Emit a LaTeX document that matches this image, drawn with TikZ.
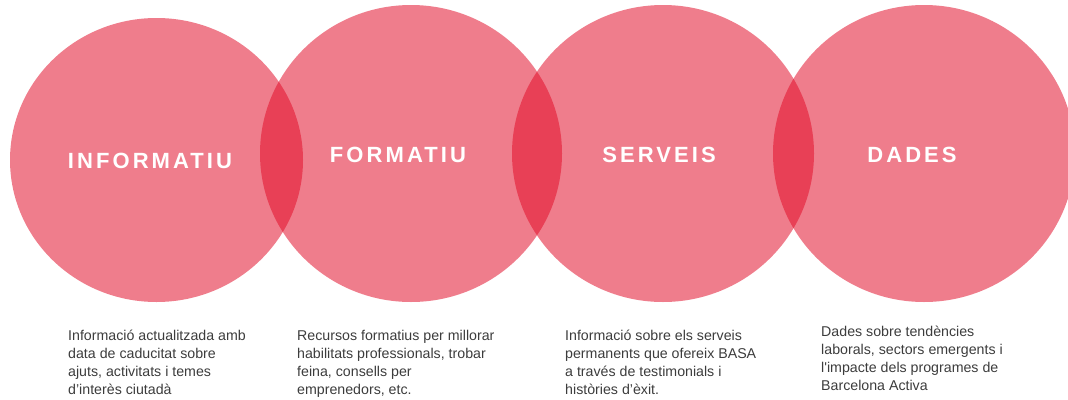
\documentclass[tikz,border=0pt]{standalone}
\usepackage{fontspec}
\setmainfont{Liberation Sans}
\newfontfamily\descfont{Liberation Sans}
\newfontfamily\titlefont{Liberation Sans}[LetterSpace=14]
\usepackage{tikz}
\usetikzlibrary{shapes.geometric}
\definecolor{bared}{HTML}{E10A26}
\definecolor{batext}{HTML}{3C3C3C}

\begin{document}
\begin{tikzpicture}[x=1pt, y=-1pt,
    disc/.style={ellipse, fill=bared, fill opacity=0.53, inner sep=0pt, minimum width=302pt, minimum height=297pt},
    title/.style={text=white, inner sep=0pt, font=\titlefont\bfseries\fontsize{22}{26}\selectfont},
    desc/.style={anchor=base west, align=left, inner sep=0pt, text=batext, font=\descfont\fontsize{14.2}{17.7}\selectfont}
]
\clip (0,0) rectangle (1068,399);

% Four overlapping circles
\node[disc, minimum width=293pt, minimum height=284pt] (cinfo) at (156.5,160) {};
\node[disc] (cform) at (411,153.5) {};
\node[disc] (cserv) at (663,153.5) {};
\node[disc] (cdades) at (924,153.5) {};

% Circle titles
\node[title] (tinfo) at (150,161) {INFORMATIU};
\node[title] (tform) at (398,155) {FORMATIU};
\node[title] (tserv) at (659,155) {SERVEIS};
\node[title] (tdades) at (912,155) {DADES};

% Descriptions (base = last line)
\node[desc] (dinfo) at (68,394) {Informació actualitzada amb\\data de caducitat sobre\\ajuts, activitats i temes\\d’interès ciutadà};
\node[desc] (dform) at (297,394) {Recursos formatius per millorar\\habilitats professionals, trobar\\feina, consells per\\emprenedors, etc.};
\node[desc] (dserv) at (565,394) {Informació sobre els serveis\\permanents que ofereix BASA\\a través de testimonials i\\històries d’èxit.};
\node[desc] (ddades) at (821,390) {Dades sobre tendències\\laborals, sectors emergents i\\l'impacte dels programes de\\Barcelona Activa};

\end{tikzpicture}
\end{document}
